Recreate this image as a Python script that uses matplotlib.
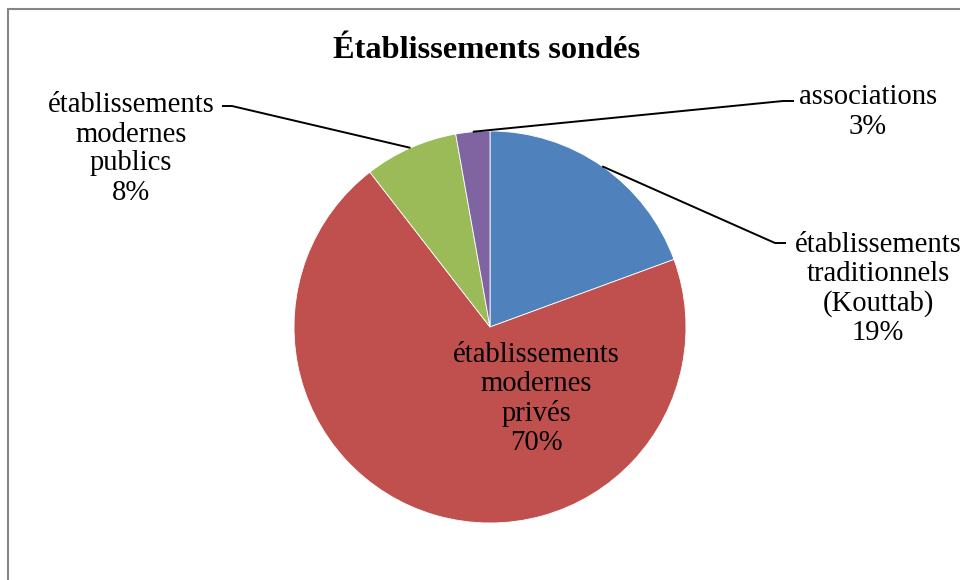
import numpy as np
import matplotlib.pyplot as plt
from matplotlib.patches import Rectangle

labels = ['établissements\ntraditionnels\n(Kouttab)', 'établissements\nmodernes\nprivés',
          'établissements\nmodernes\npublics', 'associations']
values = [19.4, 70.1, 7.7, 2.8]
colors = ['#4F81BD', '#C0504D', '#9BBB59', '#8064A2']
title = 'Établissements sondés'

W, H = 960, 580
cx, cy, r = 490, H - 327, 196

plt.rcParams['font.family'] = ['Liberation Serif', 'DejaVu Serif']

fig = plt.figure(figsize=(W / 100, H / 100), dpi=100)
ax = fig.add_axes([0, 0, 1, 1])

# outer chart border (only left/top visible)
fig.patches.append(Rectangle((8 / W, -0.1), 1.2, 1 - 9 / H + 0.1, transform=fig.transFigure,
                             fill=False, edgecolor='#868686', linewidth=1.5))

wedges, _ = ax.pie(values, colors=colors, startangle=90, counterclock=False,
                   center=(cx, cy), radius=r, frame=True,
                   wedgeprops=dict(edgecolor='white', linewidth=0.6))
ax.set_xlim(0, W)
ax.set_ylim(0, H)
ax.axis('off')

fs = 20.6
pct = [f'{round(v):.0f}%' for v in values]

# label positions (text centre) and leader-line elbow points
text_pos = [(878, H - 289), (536, H - 399), (131, H - 149), (868, H - 112)]
elbows = [(775, H - 243, 786), None, (232, H - 106, 222), (783, H - 101, 794)]

for w, lab, p, pos, el in zip(wedges, labels, pct, text_pos, elbows):
    ax.text(pos[0], pos[1], f'{lab}\n{p}', ha='center', va='center', fontsize=fs,
            linespacing=1.15, color='black')
    if el is None:
        continue
    mid = np.deg2rad((w.theta1 + w.theta2) / 2)
    x0, y0 = cx + r * np.cos(mid), cy + r * np.sin(mid)
    ax.plot([x0, el[0], el[2]], [y0, el[1], el[1]], color='black', lw=1.4,
            solid_capstyle='butt')

ax.text(487, H - 51, title, ha='center', va='center', fontsize=23.3, fontweight='bold')

fig.savefig('out.png', dpi=100)
